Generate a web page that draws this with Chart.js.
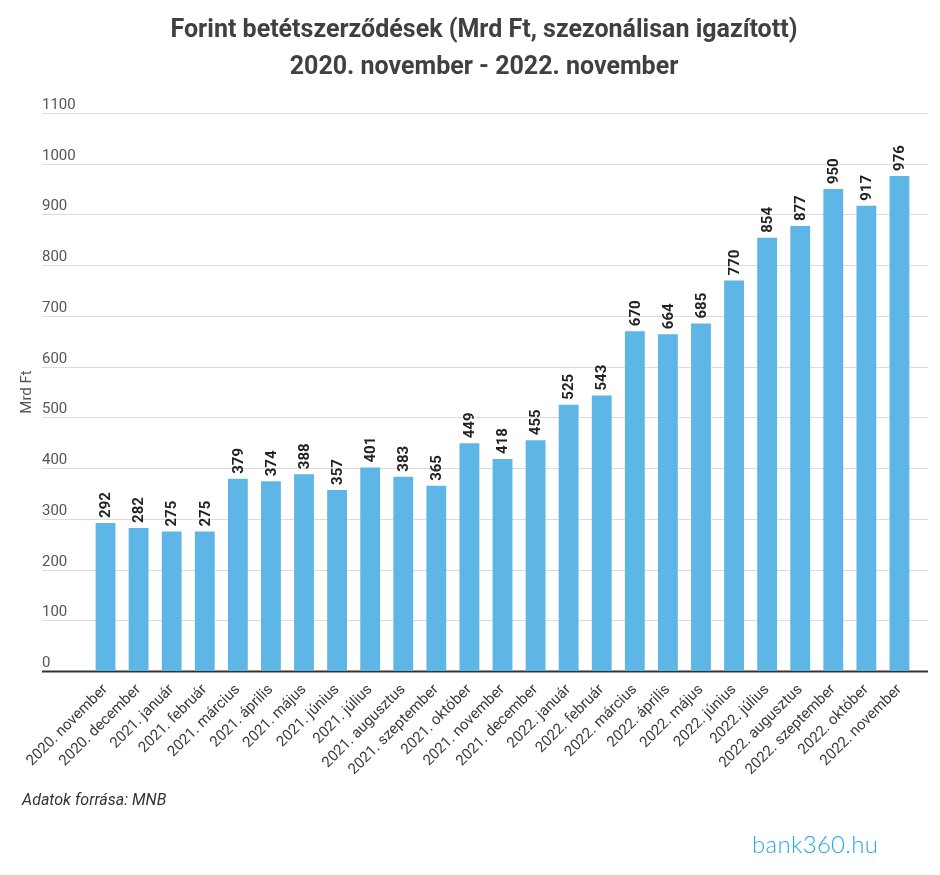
<!DOCTYPE html>
<html>
<head>
<meta charset="utf-8">
<script src="https://cdn.jsdelivr.net/npm/chart.js@4.4.0/dist/chart.umd.min.js"></script>
<style>
  body { margin: 0; background: #fff; }
  #wrap { position: relative; width: 940px; height: 875px; }
  #title { position: absolute; left: 0; top: 11px; width: 968px; text-align: center; font: bold 25px/36.5px Roboto, sans-serif; color: #404040; }
  #source { position: absolute; left: 22px; top: 790px; font: italic 16px Roboto, sans-serif; color: #333; }
  #logo { position: absolute; left: 752px; top: 829px; font: 300 24px Lato, Roboto, sans-serif; color: #2aaae2; letter-spacing: 0.3px; }
</style>
</head>
<body>
<div id="wrap">
  <canvas id="barChart" width="940" height="875"></canvas>
  <div id="title">Forint betétszerződések (Mrd Ft, szezonálisan igazított)<br>2020. november - 2022. november</div>
  <div id="source">Adatok forrása: MNB</div>
  <div id="logo">bank360.hu</div>
</div>
<script>
// Forint betétszerződések, havi adatok
const months = [
  '2020. november', '2020. december', '2021. január', '2021. február', '2021. március',
  '2021. április', '2021. május', '2021. június', '2021. július', '2021. augusztus',
  '2021. szeptember', '2021. október', '2021. november', '2021. december', '2022. január',
  '2022. február', '2022. március', '2022. április', '2022. május', '2022. június',
  '2022. július', '2022. augusztus', '2022. szeptember', '2022. október', '2022. november'
];
const deposits = [292, 282, 275, 275, 379, 374, 388, 357, 401, 383, 365, 449, 418, 455, 525, 543, 670, 664, 685, 770, 854, 877, 950, 917, 976];
const yMax = 1100;
const yStep = 100;

// grid lines and y labels reach beyond the bar area, so they are drawn here
const gridPlugin = {
  id: 'grid',
  beforeDatasetsDraw(chart) {
    const ctx = chart.ctx;
    const y = chart.scales.y;
    ctx.save();
    ctx.font = '15px Roboto, sans-serif';
    ctx.fillStyle = '#555';
    ctx.textAlign = 'left';
    ctx.textBaseline = 'alphabetic';
    y.ticks.forEach(t => {
      const py = Math.round(y.getPixelForValue(t.value)) + 0.5;
      ctx.strokeStyle = t.value === 0 ? '#333' : '#dcdcdc';
      ctx.lineWidth = t.value === 0 ? 2 : 1;
      ctx.beginPath();
      ctx.moveTo(42, py);
      ctx.lineTo(928, py);
      ctx.stroke();
      ctx.fillText(String(t.value), 42, py - 5);
    });
    ctx.translate(27, (y.top + y.bottom) / 2);
    ctx.rotate(-Math.PI / 2);
    ctx.textAlign = 'center';
    ctx.textBaseline = 'middle';
    ctx.font = '15px Roboto, sans-serif';
    ctx.fillText('Mrd Ft', 0, 0);
    ctx.restore();
  },
  afterDatasetsDraw(chart) {
    const ctx = chart.ctx;
    const meta = chart.getDatasetMeta(0);
    ctx.save();
    ctx.font = 'bold 15px Roboto, sans-serif';
    ctx.fillStyle = '#222';
    meta.data.forEach((bar, i) => {
      ctx.save();
      ctx.translate(bar.x, bar.y - 5);
      ctx.rotate(-Math.PI / 2);
      ctx.textAlign = 'left';
      ctx.textBaseline = 'middle';
      ctx.fillText(String(deposits[i]), 0, 1);
      ctx.restore();
    });
    ctx.restore();
  }
};

const barCtx = document.getElementById('barChart').getContext('2d');
new Chart(barCtx, {
  type: 'bar',
  data: {
    labels: months,
    datasets: [{
      label: 'Mrd Ft',
      data: deposits,
      backgroundColor: '#5db6e5',
      barPercentage: 0.6,
      categoryPercentage: 1
    }]
  },
  options: {
    responsive: false,
    animation: false,
    layout: { padding: { left: 89, right: 24, top: 113 } },
    plugins: {
      legend: { display: false },
      tooltip: { enabled: false }
    },
    scales: {
      x: {
        grid: { display: false },
        border: { display: false },
        ticks: {
          minRotation: 45,
          maxRotation: 45,
          autoSkip: false,
          padding: 2,
          color: '#3a3a3a',
          font: { family: 'Roboto', size: 15 }
        },
        afterFit: s => { s.height = 204; }
      },
      y: {
        display: false,
        min: 0,
        max: yMax,
        ticks: { stepSize: yStep }
      }
    }
  },
  plugins: [gridPlugin]
});
</script>
</body>
</html>
